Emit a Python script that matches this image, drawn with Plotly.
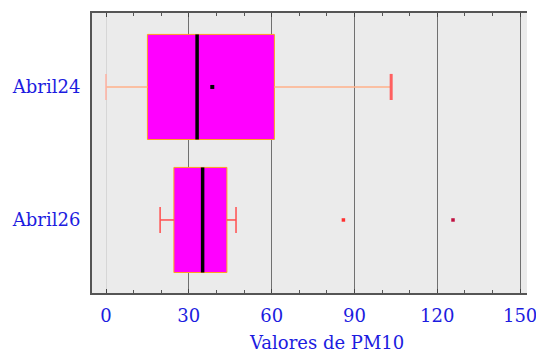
import plotly.graph_objects as go

categories = ["Abril24", "Abril26"]
q1 = [15.0, 24.6]
median = [33.0, 35.0]
q3 = [61.0, 43.8]
lower_fence = [0.0, 19.6]
upper_fence = [103.3, 47.1]
mean_values = [38.5, None]
outliers_abril26 = [86.0, 125.7]
x_ticks = [0, 30, 60, 90, 120, 150]

ypos = list(range(len(categories)))
whisker_colors = ["#ffb08a", "#ff4d4d"]
cap_colors = ["#ff6060", "#ff4d4d"]
cap_widths = [3, 1.5]
cap_half = 0.098

fig = go.Figure()

for i, cat in enumerate(categories):
    # whiskers
    fig.add_trace(go.Scatter(x=[lower_fence[i], q1[i]], y=[ypos[i], ypos[i]], mode="lines",
                             line=dict(color=whisker_colors[i], width=1.5), showlegend=False, hoverinfo="skip"))
    fig.add_trace(go.Scatter(x=[q3[i], upper_fence[i]], y=[ypos[i], ypos[i]], mode="lines",
                             line=dict(color=whisker_colors[i], width=1.5), showlegend=False, hoverinfo="skip"))
    # caps
    fig.add_trace(go.Scatter(x=[lower_fence[i], lower_fence[i]], y=[ypos[i] - cap_half, ypos[i] + cap_half],
                             mode="lines", line=dict(color=cap_colors[i] if i == 1 else "#ffb0a0", width=1.5),
                             showlegend=False, hoverinfo="skip"))
    fig.add_trace(go.Scatter(x=[upper_fence[i], upper_fence[i]], y=[ypos[i] - cap_half, ypos[i] + cap_half],
                             mode="lines", line=dict(color=cap_colors[i], width=cap_widths[i]),
                             showlegend=False, hoverinfo="skip"))
    # box
    fig.add_trace(go.Box(y=[ypos[i]], q1=[q1[i]], median=[median[i]], q3=[q3[i]],
                         lowerfence=[q1[i]], upperfence=[q3[i]], orientation="h",
                         width=0.79, fillcolor="#ff00ff", line=dict(color="#ffa020", width=1),
                         whiskerwidth=0, showlegend=False, name=cat, hoverinfo="skip"))
    # median
    fig.add_trace(go.Scatter(x=[median[i], median[i]], y=[ypos[i] - 0.395, ypos[i] + 0.395], mode="lines",
                             line=dict(color="black", width=3.5), showlegend=False, hoverinfo="skip"))
    if mean_values[i] is not None:
        fig.add_trace(go.Scatter(x=[mean_values[i]], y=[ypos[i]], mode="markers",
                                 marker=dict(symbol="square", size=4, color="black"),
                                 showlegend=False, hoverinfo="skip"))

fig.add_trace(go.Scatter(x=outliers_abril26, y=[ypos[1]] * len(outliers_abril26), mode="markers",
                         marker=dict(symbol="square", size=3.5, color=["#ff3030", "#c01040"]),
                         showlegend=False, hoverinfo="skip"))

font_blue = "#1c1ce0"
fig.update_layout(
    width=536, height=354,
    margin=dict(l=92, r=9, t=13, b=61, autoexpand=False),
    paper_bgcolor="white", plot_bgcolor="#ebebeb",
    font=dict(family="DejaVu Serif", size=18, color=font_blue),
    xaxis=dict(range=[-5.07, 152.5], tickvals=x_ticks, ticktext=[str(v) for v in x_ticks],
               automargin=False, ticklabeloverflow="allow",
               showgrid=True, gridcolor="#707070", gridwidth=1,
               zeroline=True, zerolinecolor="#d6d6d6", zerolinewidth=1,
               showline=True, linecolor="#555555", linewidth=2, mirror="allticks",
               ticks="inside", ticklen=4, tickcolor="#444444",
               minor=dict(dtick=10, ticks="inside", ticklen=3, tickcolor="#555555", showgrid=False),
               tickfont=dict(family="DejaVu Serif", size=18, color=font_blue),
               ticklabelstandoff=5),
    yaxis=dict(range=[1.549, -0.556], tickvals=ypos, ticktext=categories,
               automargin=False,
               showgrid=False, zeroline=False, showline=True, linecolor="#555555", linewidth=2,
               ticks="", ticklabelstandoff=6,
               tickfont=dict(family="DejaVu Serif", size=18, color=font_blue)),
)

fig.add_annotation(text="Valores de PM10", xref="paper", yref="paper", x=0.538, y=-0.132,
                   xanchor="center", yanchor="top", showarrow=False,
                   font=dict(family="DejaVu Serif", size=18, color=font_blue))

fig.write_html("out.html", config={"displayModeBar": False, "staticPlot": True},
               post_script="document.body.style.margin='0px'; document.body.style.overflow='hidden';")
